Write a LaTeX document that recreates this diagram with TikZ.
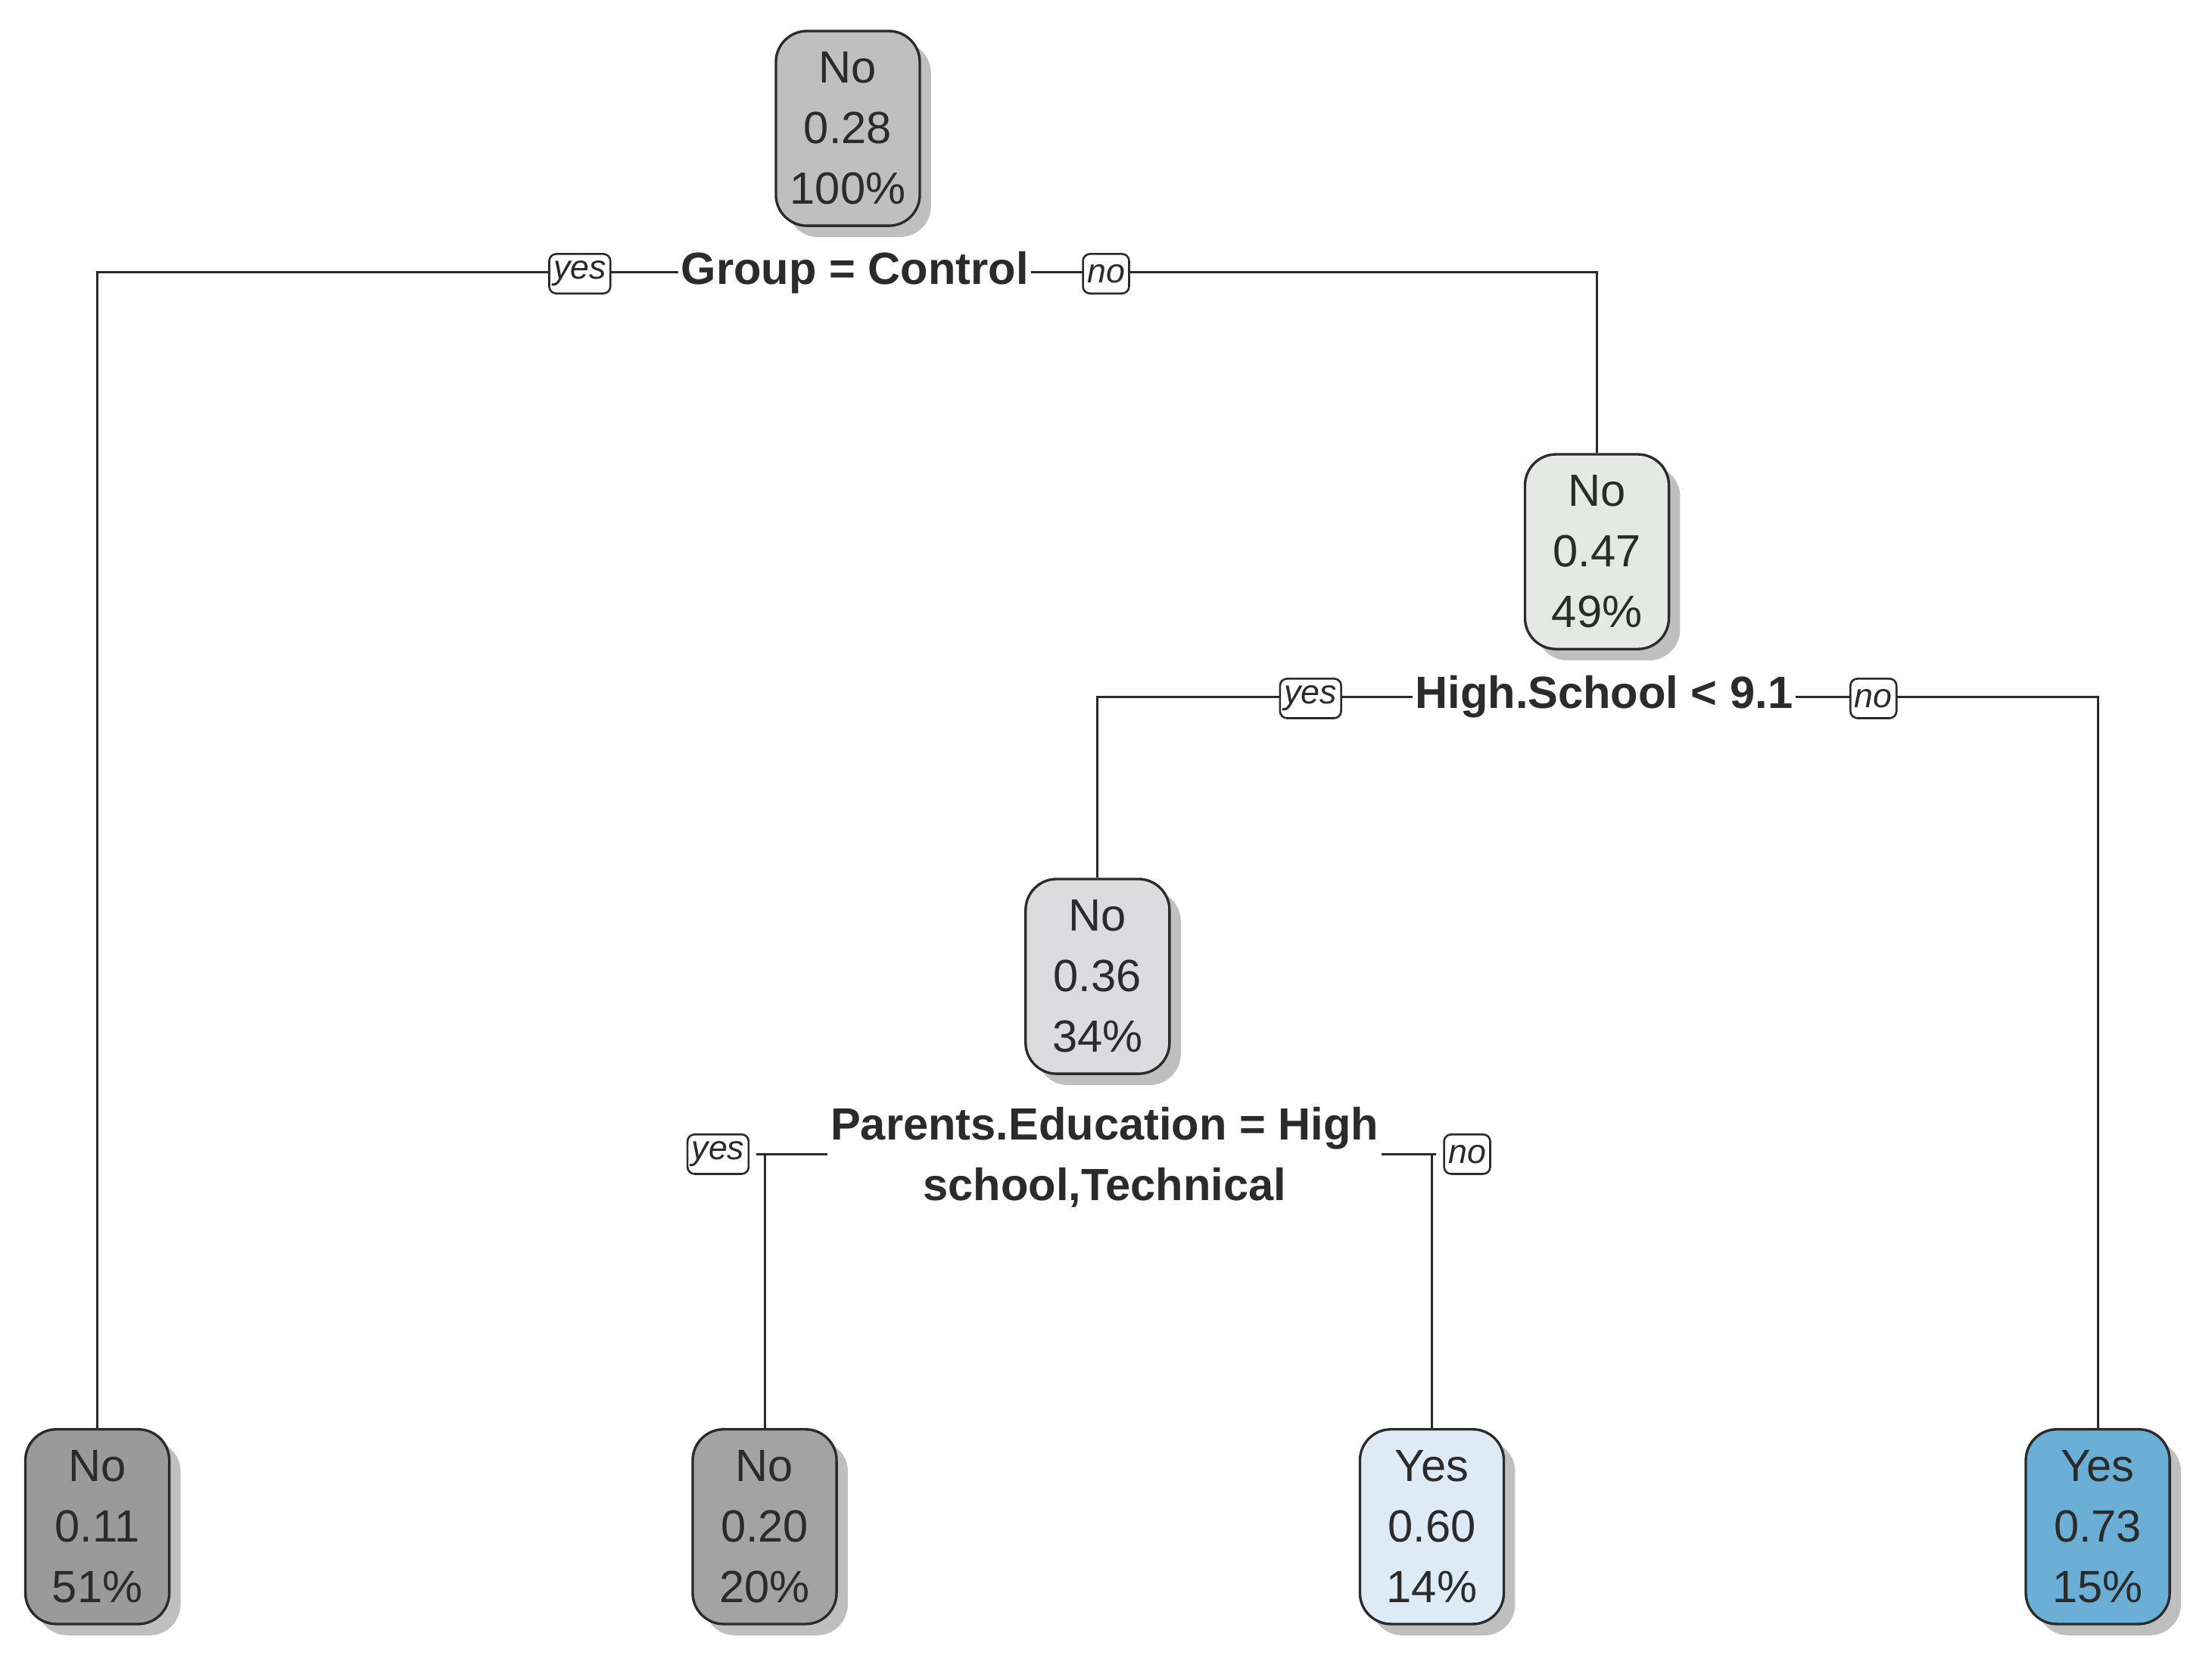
\documentclass[tikz,border=0pt]{standalone}
\usepackage{fontspec}
\setmainfont{Liberation Sans}
\usetikzlibrary{shadows}
\definecolor{txt}{HTML}{2B2B2B}
\begin{document}
\begin{tikzpicture}[x=0.5pt,y=-0.5pt,
  tnode/.style={draw=txt,line width=0.9pt,rounded corners=11pt,minimum width=51pt,minimum height=69pt,
    align=center,inner sep=0pt,text=txt,font=\fontsize{16}{21.5}\selectfont,
    general shadow={fill=black!25,shadow xshift=4pt,shadow yshift=-4pt}},
  split/.style={fill=white,text=txt,font=\bfseries\fontsize{16}{21.5}\selectfont,align=center,inner sep=1pt},
  yn/.style={draw=txt,fill=white,rounded corners=2.5pt,line width=0.7pt,text=txt,
    font=\itshape\fontsize{12}{12}\selectfont,inner sep=1.5pt,minimum height=14pt},
  ln/.style={draw=txt,line width=0.8pt}]
\useasboundingbox (0,0) rectangle (1568,1182);
% lines
\coordinate (l1a) at (69,193); \coordinate (l1b) at (1132,193);
\coordinate (l2a) at (778,494); \coordinate (l2b) at (1487,494);
\coordinate (l3a) at (542,818); \coordinate (l3b) at (1015,818);
\node[tnode,fill=black!25] (n1) at (601,91) {No\\0.28\\100\%};
\node[tnode,fill={rgb,255:red,230;green,232;blue,230}] (n2) at (1132,391) {No\\0.47\\49\%};
\node[tnode,fill={rgb,255:red,220;green,220;blue,222}] (n3) at (778,692) {No\\0.36\\34\%};
\node[tnode,fill={rgb,255:red,154;green,154;blue,154}] (a) at (69,1082) {No\\0.11\\51\%};
\node[tnode,fill={rgb,255:red,163;green,163;blue,163}] (b) at (542,1082) {No\\0.20\\20\%};
\node[tnode,fill={rgb,255:red,222;green,235;blue,247}] (c) at (1015,1082) {Yes\\0.60\\14\%};
\node[tnode,fill={rgb,255:red,107;green,174;blue,214}] (d) at (1487,1082) {Yes\\0.73\\15\%};
\draw[ln] (a.north) -- (l1a) -- (l1b) -- (n2.north);
\draw[ln] (n3.north) -- (l2a) -- (l2b) -- (d.north);
\draw[ln] (b.north) -- (l3a) -- (l3b) -- (c.north);
\draw[ln] (l3a) -- (536,818);
\draw[ln] (l3b) -- (1018,818);
\node[split] (s1) at (606,193) {Group = Control};
\node[split] (s2) at (1137,494) {High.School < 9.1};
\node[split] (s3) at (783,820) {Parents.Education = High\\school,Technical};
\node[yn] (y1) at (411,194) {yes};
\node[yn] (o1) at (784,194) {no};
\node[yn] (y2) at (929,495) {yes};
\node[yn] (o2) at (1328,495) {no};
\node[yn] (y3) at (509,818) {yes};
\node[yn] (o3) at (1040,818) {no};
\end{tikzpicture}
\end{document}
